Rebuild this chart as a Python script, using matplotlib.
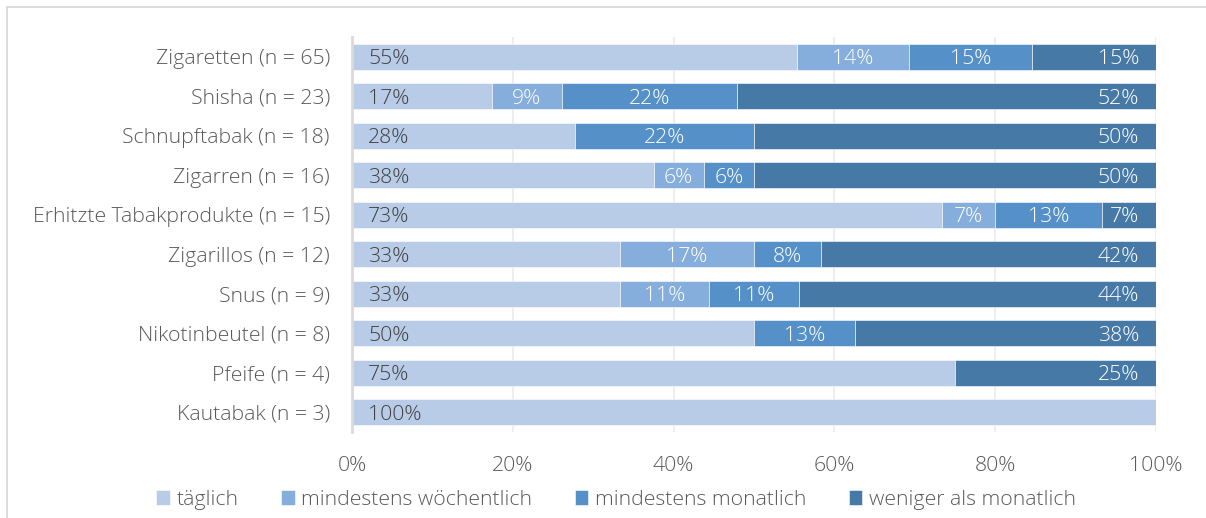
import numpy as np
import matplotlib
matplotlib.use("Agg")
import matplotlib.pyplot as plt
from matplotlib.patches import Rectangle

plt.rcParams['font.family'] = ['Open Sans', 'DejaVu Sans']

categories = [
    "Zigaretten", "Shisha", "Schnupftabak", "Zigarren",
    "Erhitzte Tabakprodukte", "Zigarillos", "Snus", "Nikotinbeutel",
    "Pfeife", "Kautabak",
]
n_total = [65, 23, 18, 16, 15, 12, 9, 8, 4, 3]

series_names = ["täglich", "mindestens wöchentlich", "mindestens monatlich",
                "weniger als monatlich"]
taeglich = [36, 4, 5, 6, 11, 4, 3, 4, 3, 3]
woechentlich = [9, 2, 0, 1, 1, 2, 1, 0, 0, 0]
monatlich = [10, 5, 4, 1, 2, 1, 1, 1, 0, 0]
weniger = [10, 12, 9, 8, 1, 5, 4, 3, 1, 0]

colors = ["#B8CCE8", "#86AEDC", "#5591C8", "#4779A7"]
label_colors = ["#404040", "white", "white", "white"]
FS = 15.3

counts = np.array([taeglich, woechentlich, monatlich, weniger], dtype=float)
shares = counts / np.array(n_total, dtype=float) * 100

fig = plt.figure(figsize=(12.06, 5.18), dpi=100)
ax = fig.add_axes([352 / 1206, 1 - 432 / 518, 804 / 1206, 395 / 518])

# outer chart border
fig.patches.append(Rectangle((6.5 / 1206, -0.1), 1.2, (1 - 6.5 / 518) + 0.1,
                             transform=fig.transFigure, fill=False,
                             edgecolor="#D9D9D9", linewidth=1.3, zorder=0))

y = np.arange(len(categories))
left = np.zeros(len(categories))
for k, name in enumerate(series_names):
    vals = shares[k]
    ax.barh(y, vals, left=left, height=0.66, color=colors[k], label=name,
            edgecolor="white", linewidth=0.4, zorder=2)
    for i, v in enumerate(vals):
        if v <= 0:
            continue
        txt = f"{int(np.floor(v + 0.5))}%"
        if k == 0:
            x, ha = left[i] + 2.0, "left"
        elif k == 3:
            x, ha = left[i] + v - 2.1, "right"
        else:
            x, ha = left[i] + v / 2, "center"
        ax.text(x, y[i], txt, ha=ha, va="center_baseline",
                color=label_colors[k], fontsize=FS, fontweight=300, zorder=3)
    left += vals

ax.set_xlim(0, 100)
ax.set_ylim(len(categories) - 0.5, -0.5)
ax.set_yticks(y)
ax.set_yticklabels([f"{c} (n = {n})" for c, n in zip(categories, n_total)],
                   fontsize=FS, fontweight=300, color="#595959")
ax.set_xticks(np.arange(0, 101, 20))
ax.set_xticklabels([f"{t}%" for t in range(0, 101, 20)], fontsize=FS,
                   fontweight=300, color="#595959")
ax.tick_params(axis="both", length=0)
ax.tick_params(axis="y", pad=16)
ax.tick_params(axis="x", pad=17)
ax.grid(axis="x", color="#EBEBEB", linewidth=1.2, zorder=0)
ax.set_axisbelow(True)
for s in ["top", "right", "bottom"]:
    ax.spines[s].set_visible(False)
ax.spines["left"].set_color("#D9D9D9")
ax.spines["left"].set_linewidth(2)

leg = fig.legend(loc="center", bbox_to_anchor=(616 / 1206, 1 - 500 / 518),
                 ncol=4, frameon=False, handlelength=0.65, handleheight=0.65,
                 handletextpad=0.3, columnspacing=2.0,
                 prop={"size": FS, "weight": 300})
for t in leg.get_texts():
    t.set_color("#595959")

fig.savefig("out.png", dpi=100, facecolor="white")
